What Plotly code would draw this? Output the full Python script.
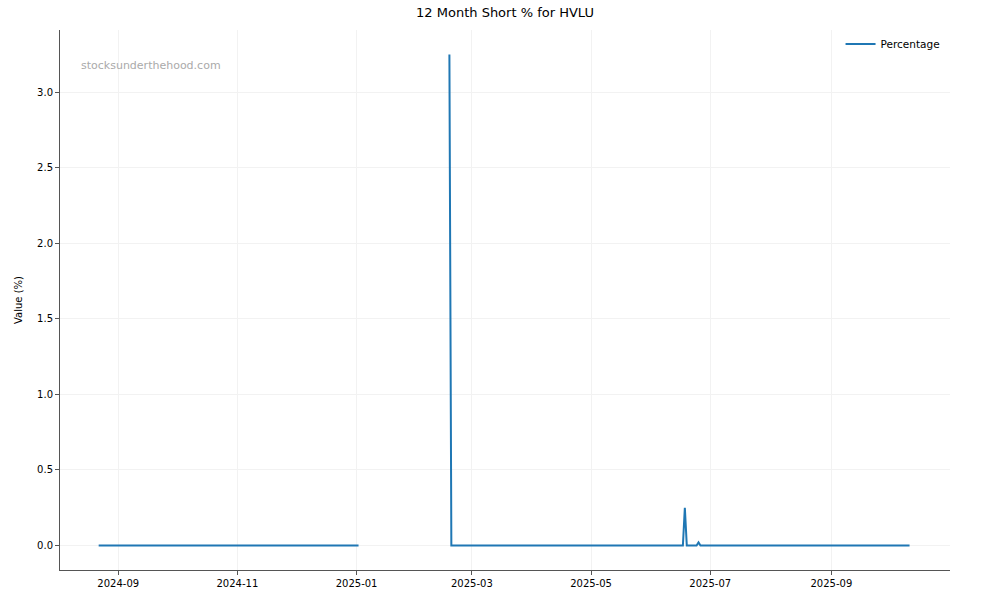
import plotly.graph_objects as go

dates = ["2024-08-22", "2025-01-02", "2025-01-20", "2025-02-17 12:00", "2025-02-18 12:00",
         "2025-06-17", "2025-06-18", "2025-06-19", "2025-06-24", "2025-06-25",
         "2025-06-26", "2025-10-11"]
values = [0.0, 0.0, None, 3.25, 0.0, 0.0, 0.25, 0.0, 0.0, 0.02, 0.0, 0.0]

title = "12 Month Short % for HVLU"
series_name = "Percentage"
y_label = "Value (%)"
watermark = "stocksunderthehood.com"

fig = go.Figure()
fig.add_trace(go.Scatter(x=dates, y=values, mode="lines", name=series_name,
                         line=dict(color="#1f77b4", width=2), connectgaps=False))

font = "DejaVu Sans"
fig.update_layout(
    width=1000, height=600,
    margin=dict(l=60, r=50, t=30, b=30),
    paper_bgcolor="white", plot_bgcolor="white",
    font=dict(family=font, size=10, color="black"),
    title=dict(text=title, x=0.505, xanchor="center", y=1 - 12 / 600, yanchor="middle",
               font=dict(size=13, family=font)),
    showlegend=True,
    legend=dict(x=0.995, xanchor="right", y=1.001, yanchor="top",
                bgcolor="rgba(255,255,255,0.8)", font=dict(size=10.5)),
    xaxis=dict(range=["2024-08-02 05:00", "2025-10-31 17:00"], type="date",
               tick0="2024-09-01", dtick="M2", tickformat="%Y-%m",
               showgrid=True, gridcolor="#f2f2f2", gridwidth=1,
               showline=True, linecolor="#555555", linewidth=1,
               ticks="outside", ticklen=4, tickcolor="#555555", zeroline=False),
    yaxis=dict(range=[-0.1625, 3.4125], tick0=0, dtick=0.5, tickformat=".1f",
               title=dict(text=y_label, font=dict(size=10), standoff=12),
               showgrid=True, gridcolor="#f2f2f2", gridwidth=1,
               showline=True, linecolor="#555555", linewidth=1,
               ticks="outside", ticklen=4, tickcolor="#555555", zeroline=False),
)
fig.add_annotation(text=watermark, xref="paper", yref="paper", x=0.021, y=0.935,
                   xanchor="left", yanchor="middle", showarrow=False,
                   font=dict(size=11, color="#aaaaaa", family=font))

fig.write_html("out.html", config={"displayModeBar": False},
               post_script="document.body.style.margin='0px';")
